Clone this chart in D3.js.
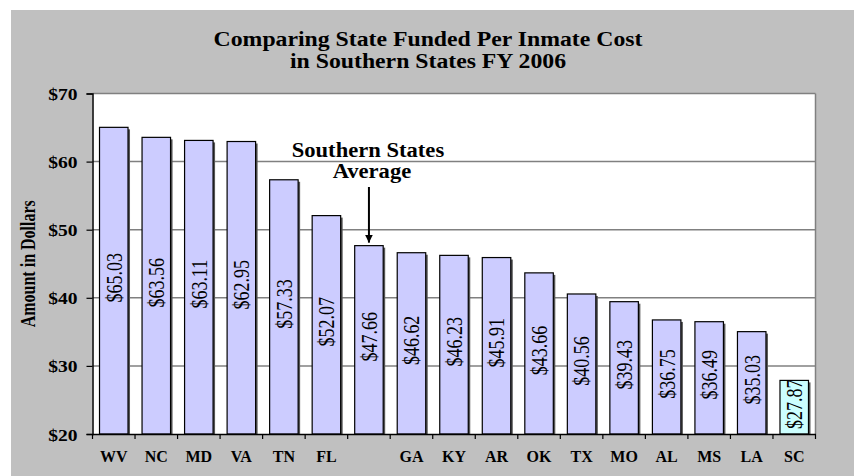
<!DOCTYPE html>
<html>
<head>
<meta charset="utf-8">
<script src="https://cdn.jsdelivr.net/npm/d3@7/dist/d3.min.js"></script>
<style>
	body { margin: 0; background: #fff; }
	svg { display: block; }
	svg text { font-family: "Liberation Serif", "Times New Roman", Times, serif !important; fill: #000; }
</style>
</head>
<body>
<div id="chart"></div>
<script>
(function () {

	// data
	var states = ["WV", "NC", "MD", "VA", "TN", "FL", "", "GA", "KY", "AR", "OK", "TX", "MO", "AL", "MS", "LA", "SC"];
	var costs = [65.03, 63.56, 63.11, 62.95, 57.33, 52.07, 47.66, 46.62, 46.23, 45.91, 43.66, 40.56, 39.43, 36.75, 36.49, 35.03, 27.87];
	var highlighted = ["SC"];
	var yTicks = [20, 30, 40, 50, 60, 70];
	var titleLines = ["Comparing State Funded Per Inmate Cost", "in Southern States FY 2006"];
	var noteLines = ["Southern States", "Average"];
	var averageIndex = 6;

	var width = 854, height = 476;
	var plot = { left: 92.5, right: 815.5, top: 93.5, bottom: 434 };
	var stretch = 1.25; // the source picture is a bit wide, text included
	var serif = "'Liberation Serif', 'Times New Roman', Times, serif";

	var svg = d3.select("#chart")
				.append("svg")
				.attr("width", width)
				.attr("height", height)
				.attr("font-family", serif)
				;

	svg.append("rect")
		.attr("x", 11)
		.attr("y", 10)
		.attr("width", width - 11)
		.attr("height", height - 10)
		.attr("fill", "#c0c0c0");

	svg.append("rect")
		.attr("x", plot.left)
		.attr("y", plot.top)
		.attr("width", plot.right - plot.left)
		.attr("height", plot.bottom - plot.top)
		.attr("fill", "#fff");

	var x = d3.scaleBand()
		.domain(d3.range(states.length))
		.range([plot.left, plot.right])
		.paddingInner(0.33)
		.paddingOuter(0.165);

	var y = d3.scaleLinear()
		.domain([20, 70])
		.range([plot.bottom, plot.top]);

	// grid lines
	svg.append("g")
		.selectAll("line")
		.data(yTicks.slice(1))
		.enter()
		.append("line")
		.attr("x1", plot.left)
		.attr("x2", plot.right)
		.attr("y1", function(d) { return y(d); })
		.attr("y2", function(d) { return y(d); })
		.attr("stroke", "#808080")
		.attr("stroke-width", 1.5);

	svg.append("line")
		.attr("x1", plot.right)
		.attr("x2", plot.right)
		.attr("y1", plot.top)
		.attr("y2", plot.bottom)
		.attr("stroke", "#808080")
		.attr("stroke-width", 1.5);

	var bars = svg.append("g")
		.selectAll("g")
		.data(costs)
		.enter()
		.append("g");

	// shadow
	bars.append("rect")
		.attr("x", function(d, i) { return x(i) + 2; })
		.attr("y", function(d) { return y(d) + 2; })
		.attr("width", x.bandwidth())
		.attr("height", function(d) { return y(20) - y(d) - 2; })
		.attr("fill", "#555");

	bars.append("rect")
		.attr("x", function(d, i) { return x(i); })
		.attr("y", function(d) { return y(d); })
		.attr("width", x.bandwidth())
		.attr("height", function(d) { return y(20) - y(d); })
		.attr("fill", function(d, i) { return highlighted.indexOf(states[i]) >= 0 ? "#ccffff" : "#ccccff"; })
		.attr("stroke", "#000")
		.attr("stroke-width", 1.2);

	bars.append("text")
		.attr("transform", function(d, i) {
			var cx = x(i) + x.bandwidth() / 2;
			var cy = (y(d) + y(20)) / 2 - 3;
			return "translate(" + cx + "," + cy + ") scale(" + stretch + ",1) rotate(-90)";
		})
		.attr("text-anchor", "middle")
		.attr("dy", "0.35em")
		.style("font-family", serif)
		.style("font-size", "18px")
		.text(function(d) { return "$" + d.toFixed(2); });

	// axes
	var yAxis = svg.append("g")
		.attr("transform", "translate(" + plot.left + ",0)")
		.call(d3.axisLeft(y).tickValues(yTicks).tickSize(6).tickFormat(function(d) { return "$" + d; }));

	yAxis.attr("font-family", serif);
	yAxis.select(".domain").attr("stroke", "#000").attr("stroke-width", 1.5);
	yAxis.selectAll(".tick line").attr("stroke", "#000").attr("stroke-width", 1.2);
	yAxis.selectAll(".tick text")
		.attr("x", null)
		.attr("dy", null)
		.attr("transform", "translate(-15,6) scale(1.15,1)")
		.style("font-family", serif)
		.style("font-size", "17px")
		.style("font-weight", "bold");

	var xAxis = svg.append("g")
		.attr("transform", "translate(0," + plot.bottom + ")")
		.call(d3.axisBottom(x).tickSize(0).tickFormat(function(i) { return states[i]; }));

	xAxis.attr("font-family", serif);
	xAxis.select(".domain").attr("stroke", "#000").attr("stroke-width", 1.5);
	xAxis.selectAll(".tick text")
		.attr("y", 28)
		.attr("dy", null)
		.style("font-family", serif)
		.style("font-size", "16px")
		.style("font-weight", "bold");

	// tick marks between the categories
	var step = x.step();
	svg.append("g")
		.selectAll("line")
		.data(d3.range(states.length + 1))
		.enter()
		.append("line")
		.attr("x1", function(i) { return plot.left + i * step; })
		.attr("x2", function(i) { return plot.left + i * step; })
		.attr("y1", plot.bottom)
		.attr("y2", plot.bottom + 5)
		.attr("stroke", "#000")
		.attr("stroke-width", 1.2);

	// title
	svg.append("g")
		.selectAll("text")
		.data(titleLines)
		.enter()
		.append("text")
		.attr("transform", function(d, i) { return "translate(428," + (46 + i * 22) + ") scale(1.08,1)"; })
		.attr("text-anchor", "middle")
		.style("font-family", serif)
		.style("font-size", "22px")
		.style("font-weight", "bold")
		.text(function(d) { return d; });

	svg.append("text")
		.attr("transform", "translate(35," + ((plot.top + plot.bottom) / 2) + ") scale(" + stretch + ",1) rotate(-90)")
		.attr("text-anchor", "middle")
		.style("font-family", serif)
		.style("font-size", "16px")
		.style("font-weight", "bold")
		.text("Amount in Dollars");

	// note over the average bar
	var noteX = x(averageIndex) + x.bandwidth() / 2;

	svg.append("g")
		.selectAll("text")
		.data(noteLines)
		.enter()
		.append("text")
		.attr("transform", function(d, i) { return "translate(" + (noteX + i * 4 - 1) + "," + (157 + i * 21) + ") scale(1.13,1)"; })
		.attr("text-anchor", "middle")
		.style("font-family", serif)
		.style("font-size", "20px")
		.style("font-weight", "bold")
		.text(function(d) { return d; });

	svg.append("defs")
		.append("marker")
		.attr("id", "head")
		.attr("viewBox", "0 0 10 10")
		.attr("refX", 10)
		.attr("refY", 5)
		.attr("markerWidth", 4)
		.attr("markerHeight", 4)
		.attr("orient", "auto")
		.append("path")
		.attr("d", "M0,0 L10,5 L0,10 z")
		.attr("fill", "#000");

	svg.append("line")
		.attr("x1", noteX)
		.attr("x2", noteX)
		.attr("y1", 187)
		.attr("y2", y(costs[averageIndex]) - 3)
		.attr("stroke", "#000")
		.attr("stroke-width", 2)
		.attr("marker-end", "url(#head)");

}) ();
</script>
</body>
</html>
